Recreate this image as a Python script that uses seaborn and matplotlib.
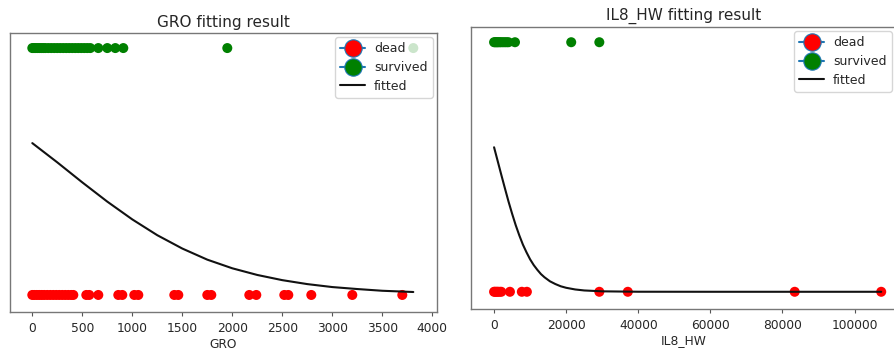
import numpy as np
import pandas as pd
import matplotlib.pyplot as plt
import seaborn as sns
from matplotlib.lines import Line2D

# GRO panel: observed values (outcome 0 = dead, 1 = survived)
GRO_DEAD = [0, 20, 45, 70, 95, 120, 150, 180, 210, 240, 270, 300, 330, 360, 390, 410,
            540, 570, 660, 860, 900, 1020, 1060, 1420, 1460, 1750, 1790,
            2170, 2240, 2520, 2560, 2790, 3200, 3700]
GRO_SURV = [0, 15, 30, 50, 70, 90, 110, 130, 160, 190, 220, 250, 280, 310, 340, 370,
            400, 430, 460, 490, 520, 550, 580, 660, 750, 830, 910, 1950, 3810]
# fitted curve
GRO_FIT_X = [0, 250, 500, 750, 1000, 1250, 1500, 1750, 2000, 2250, 2500, 2750,
             3000, 3250, 3500, 3810]
GRO_FIT_P = [0.615, 0.537, 0.456, 0.378, 0.306, 0.242, 0.188, 0.143, 0.108, 0.081,
             0.060, 0.044, 0.032, 0.024, 0.017, 0.012]

# IL8_HW panel
IL8_DEAD = [0, 300, 700, 1000, 1500, 2000, 4400, 7700, 9100,
            29200, 37100, 83400, 107400]
IL8_SURV = [0, 300, 600, 900, 1200, 1600, 2000, 2500, 3000, 3500, 4000, 5800,
            21400, 29200]
IL8_FIT_X = [0, 1000, 2000, 3000, 4000, 5000, 6000, 7000, 8000, 9000, 10000, 11000,
             12000, 13000, 14000, 15500, 17000, 18500, 20000, 22500, 25000, 30000,
             40000, 60000, 107400]
IL8_FIT_P = [0.579, 0.524, 0.469, 0.415, 0.362, 0.313, 0.267, 0.226, 0.189, 0.158,
             0.130, 0.107, 0.088, 0.071, 0.058, 0.042, 0.031, 0.022, 0.016, 0.0093,
             0.0053, 0.0018, 0.0002, 0.0, 0.0]

sns.set_style("ticks")
plt.rcParams["font.family"] = ["DejaVu Sans"]

fig = plt.figure(figsize=(8.95, 3.54), dpi=100)
W, H = 895, 354


def panel(rect, dead, surv, fit_x, fit_p, name, xlim, ticks, title_pad):
    x0, top, x1, bottom = rect
    ax = fig.add_axes([x0 / W, 1 - bottom / H, (x1 - x0) / W, (bottom - top) / H])

    pts = pd.DataFrame({
        "x": dead + surv,
        "y": [0] * len(dead) + [1] * len(surv),
        "outcome": ["dead"] * len(dead) + ["survived"] * len(surv),
    })
    sns.scatterplot(data=pts, x="x", y="y", hue="outcome",
                    palette={"dead": "red", "survived": "green"},
                    s=52, linewidth=0, legend=False, ax=ax)
    fit = pd.DataFrame({"x": fit_x, "p": fit_p})
    sns.lineplot(data=fit, x="x", y="p", color="#111111", linewidth=1.5, ax=ax)

    ax.set_xlim(*xlim)
    ax.set_ylim(-0.069, 1.061)
    ax.set_xticks(ticks)
    ax.set_yticks([])
    ax.set_ylabel("")
    ax.set_xlabel(name, fontsize=8.8, labelpad=2)
    ax.set_title(f"{name} fitting result", fontsize=11, pad=title_pad)
    ax.tick_params(axis="x", labelsize=8.8, length=3, pad=4, color="#555555")
    for sp in ax.spines.values():
        sp.set_color("#777777")
        sp.set_linewidth(1.0)

    handles = [
        Line2D([0], [0], marker="o", color="C0", markerfacecolor="red",
               markersize=12.5, markeredgewidth=0.8, label="dead"),
        Line2D([0], [0], marker="o", color="C0", markerfacecolor="green",
               markersize=12.5, markeredgewidth=0.8, label="survived"),
        Line2D([0], [0], color="#111111", linewidth=1.5, label="fitted"),
    ]
    ax.legend(handles=handles, loc="upper right", fontsize=9,
              borderaxespad=0.35, handletextpad=0.7, labelspacing=0.45,
              borderpad=0.4, frameon=True)
    return ax


panel((10, 33, 437, 312), GRO_DEAD, GRO_SURV, GRO_FIT_X, GRO_FIT_P, "GRO",
      (-223, 4047), [0, 500, 1000, 1500, 2000, 2500, 3000, 3500, 4000], 4.3)
panel((471, 27, 896, 309), IL8_DEAD, IL8_SURV, IL8_FIT_X, IL8_FIT_P, "IL8_HW",
      (-6400, 111500), [0, 20000, 40000, 60000, 80000, 100000], 5.5)

fig.savefig("out.png", dpi=100)
